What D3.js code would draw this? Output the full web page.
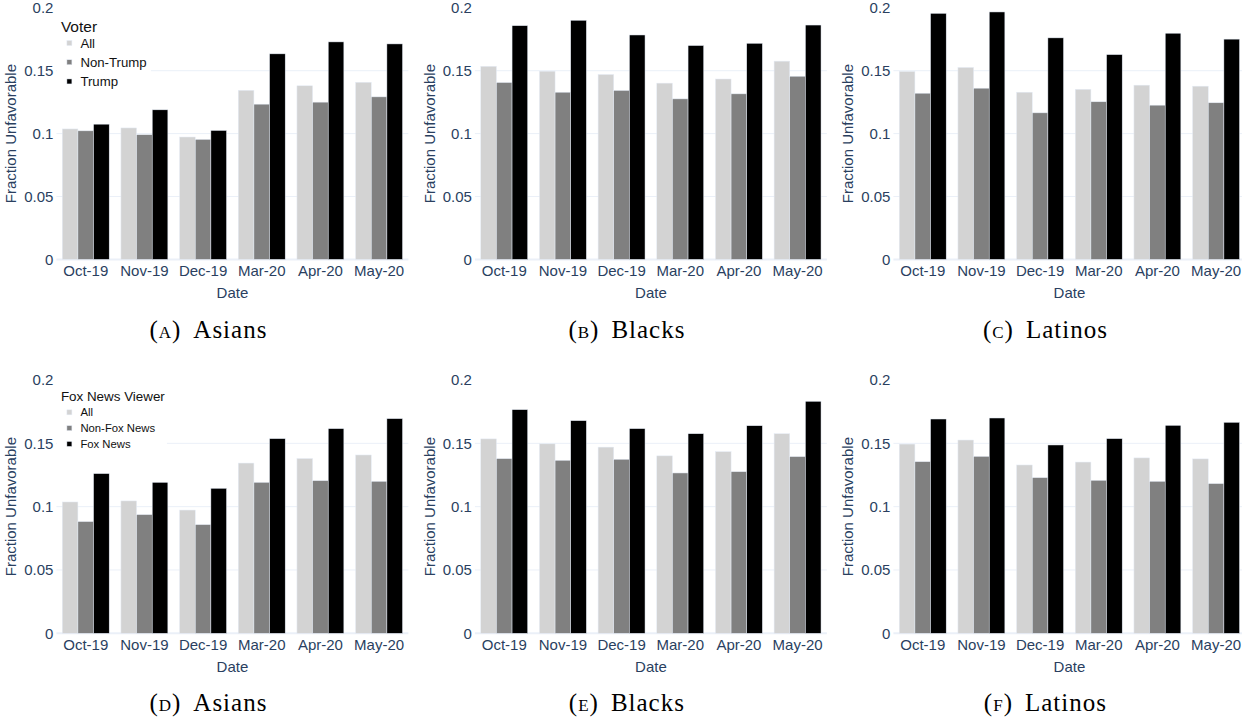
<!DOCTYPE html>
<html>
<head>
<meta charset="utf-8">
<script src="https://cdn.jsdelivr.net/npm/d3@7"></script>
<style>
  html, body { margin: 0; padding: 0; background: #fff; }
  svg { display: block; }
</style>
</head>
<body>
<svg id="chart" width="1242" height="719"></svg>
<script>
// ---------------- DATA ----------------
const dates = ["Oct-19", "Nov-19", "Dec-19", "Mar-20", "Apr-20", "May-20"];
const voterSeries = ["All", "Non-Trump", "Trump"];
const foxSeries = ["All", "Non-Fox News", "Fox News"];
const yTickValues = [0, 0.05, 0.1, 0.15, 0.2];
const yTickLabels = ["0", "0.05", "0.1", "0.15", "0.2"];

// "All" respondents (shared by voter and Fox panels of the same group)
const asiansAll  = [0.1037, 0.1045, 0.0973, 0.1344, 0.1380, 0.1408];
const blacksAll  = [0.1535, 0.1496, 0.1470, 0.1401, 0.1434, 0.1576];
const latinosAll = [0.1494, 0.1526, 0.1329, 0.1352, 0.1385, 0.1377];

// Voter split
const asiansNonTrump  = [0.1022, 0.0991, 0.0954, 0.1234, 0.1250, 0.1292];
const asiansTrump     = [0.1075, 0.1189, 0.1025, 0.1634, 0.1729, 0.1713];
const blacksNonTrump  = [0.1406, 0.1329, 0.1343, 0.1276, 0.1316, 0.1456];
const blacksTrump     = [0.1858, 0.1901, 0.1784, 0.1700, 0.1718, 0.1863];
const latinosNonTrump = [0.1321, 0.1361, 0.1165, 0.1253, 0.1226, 0.1245];
const latinosTrump    = [0.1956, 0.1967, 0.1761, 0.1628, 0.1798, 0.1751];

// Fox News viewer split
const asiansNonFox  = [0.0882, 0.0937, 0.0858, 0.1192, 0.1205, 0.1200];
const asiansFox     = [0.1261, 0.1192, 0.1145, 0.1537, 0.1616, 0.1695];
const blacksNonFox  = [0.1379, 0.1366, 0.1374, 0.1266, 0.1276, 0.1395];
const blacksFox     = [0.1766, 0.1679, 0.1616, 0.1576, 0.1639, 0.1832];
const latinosNonFox = [0.1355, 0.1397, 0.1229, 0.1208, 0.1200, 0.1182];
const latinosFox    = [0.1692, 0.1700, 0.1487, 0.1537, 0.1642, 0.1666];

const captionLetters = ["A", "B", "C", "D", "E", "F"];
const captionNames = ["Asians", "Blacks", "Latinos", "Asians", "Blacks", "Latinos"];
const legendTitles = ["Voter", "Fox News Viewer"];

// ---------------- LAYOUT ----------------
const svg = d3.select("#chart");
svg.append("rect").attr("width", 1242).attr("height", 719).attr("fill", "#fff");

const colLeft = [56.4, 474.9, 893.4];
const plotW = 352;
const rowY = [[259.4, 7.8], [633.3, 380.0]];
const colors = ["#d3d3d3", "#808080", "#000000"];
const sansFont = "'Liberation Sans', Arial, sans-serif";
const axisColor = "#2a3f5f";
const gridColor = "#EBF0F8";

const panels = [
  { row: 0, col: 0, series: voterSeries, values: [asiansAll, asiansNonTrump, asiansTrump], legend: 0 },
  { row: 0, col: 1, series: voterSeries, values: [blacksAll, blacksNonTrump, blacksTrump] },
  { row: 0, col: 2, series: voterSeries, values: [latinosAll, latinosNonTrump, latinosTrump] },
  { row: 1, col: 0, series: foxSeries, values: [asiansAll, asiansNonFox, asiansFox], legend: 1 },
  { row: 1, col: 1, series: foxSeries, values: [blacksAll, blacksNonFox, blacksFox] },
  { row: 1, col: 2, series: foxSeries, values: [latinosAll, latinosNonFox, latinosFox] }
];

const legendStyle = [
  { boxW: 94, boxTop: 12, boxH: 80, titleSize: 15.5, titleBase: 31.7, itemSize: 13.2, itemBase: 47.8, itemStep: 19.2, sym: 5 },
  { boxW: 110, boxTop: 385, boxH: 67, titleSize: 13.4, titleBase: 401.3, itemSize: 11.3, itemBase: 416.4, itemStep: 15.8, sym: 5 }
];

panels.forEach((p, i) => {
  const left = colLeft[p.col];
  const [y0, y1] = rowY[p.row];
  const g = svg.append("g");

  const x = d3.scaleBand().domain(dates).range([left, left + plotW])
    .paddingInner(0.2).paddingOuter(0.1);
  const xs = d3.scaleBand().domain(p.series).range([0, x.bandwidth()]);
  const y = d3.scaleLinear().domain([0, 0.2]).range([y0, y1]);

  // gridlines
  g.append("g").selectAll("line")
    .data(yTickValues.filter(v => v > 0 && v < 0.2))
    .join("line")
    .attr("x1", left).attr("x2", left + plotW)
    .attr("y1", d => y(d)).attr("y2", d => y(d))
    .attr("stroke", gridColor).attr("stroke-width", 1);
  g.append("line")
    .attr("x1", left).attr("x2", left + plotW)
    .attr("y1", y(0)).attr("y2", y(0))
    .attr("stroke", gridColor).attr("stroke-width", 2);

  // bars
  const rows = dates.map((d, di) => ({ date: d, vals: p.series.map((s, si) => ({ s, si, v: p.values[si][di] })) }));
  g.append("g").selectAll("g")
    .data(rows).join("g")
    .attr("transform", d => `translate(${x(d.date)},0)`)
    .selectAll("rect")
    .data(d => d.vals).join("rect")
    .attr("x", d => xs(d.s))
    .attr("width", xs.bandwidth())
    .attr("y", d => y(d.v))
    .attr("height", d => y(0) - y(d.v))
    .attr("fill", d => colors[d.si])
    .attr("stroke", "#E5ECF6").attr("stroke-width", 0.5);

  // y axis
  const ya = g.append("g").attr("transform", `translate(${left},0)`)
    .call(d3.axisLeft(y).tickValues(yTickValues)
      .tickFormat((d, k) => yTickLabels[k]).tickSize(0).tickPadding(3));
  ya.select(".domain").remove();
  ya.selectAll("text").attr("font-family", sansFont).attr("font-size", 15)
    .attr("fill", axisColor);

  // x axis
  const xa = g.append("g").attr("transform", `translate(0,${y0})`)
    .call(d3.axisBottom(x).tickSize(0).tickPadding(6));
  xa.select(".domain").remove();
  xa.selectAll("text").attr("font-family", sansFont).attr("font-size", 15)
    .attr("fill", axisColor);

  // axis titles
  g.append("text")
    .attr("transform", `translate(${left - 40},${(y0 + y1) / 2}) rotate(-90)`)
    .attr("text-anchor", "middle")
    .attr("font-family", sansFont).attr("font-size", 15).attr("fill", axisColor)
    .text("Fraction Unfavorable");
  g.append("text")
    .attr("x", left + plotW / 2).attr("y", y0 + 38.8)
    .attr("text-anchor", "middle")
    .attr("font-family", sansFont).attr("font-size", 15).attr("fill", axisColor)
    .text("Date");

  // legend
  if (p.legend !== undefined) {
    const ls = legendStyle[p.legend];
    const lg = g.append("g");
    lg.append("rect").attr("x", left + 0.5).attr("y", ls.boxTop)
      .attr("width", ls.boxW).attr("height", ls.boxH).attr("fill", "#fff");
    lg.append("text").attr("x", left + 4.5).attr("y", ls.titleBase)
      .attr("font-family", sansFont).attr("font-size", ls.titleSize).attr("fill", "#111")
      .text(legendTitles[p.legend]);
    p.series.forEach((s, si) => {
      const base = ls.itemBase + si * ls.itemStep;
      lg.append("rect").attr("x", left + 13 - ls.sym / 2)
        .attr("y", base - ls.itemSize * 0.36 - ls.sym / 2)
        .attr("width", ls.sym).attr("height", ls.sym)
        .attr("fill", colors[si]).attr("stroke", "#E5ECF6").attr("stroke-width", 0.5);
      lg.append("text").attr("x", left + 24).attr("y", base)
        .attr("font-family", sansFont).attr("font-size", ls.itemSize).attr("fill", "#111")
        .text(s);
    });
  }

  // caption
  const cx = left + 152;
  const cy = p.row === 0 ? 338 : 711;
  const cap = svg.append("text")
    .attr("x", cx).attr("y", cy).attr("text-anchor", "middle")
    .attr("font-family", "'Liberation Serif', 'Times New Roman', serif")
    .attr("font-size", 25).attr("letter-spacing", 1).attr("fill", "#000");
  cap.append("tspan").text("(");
  cap.append("tspan").attr("font-size", 17).text(captionLetters[i]);
  cap.append("tspan").text(")");
  cap.append("tspan").attr("dx", 12).text(captionNames[i]);
});
</script>
</body>
</html>
